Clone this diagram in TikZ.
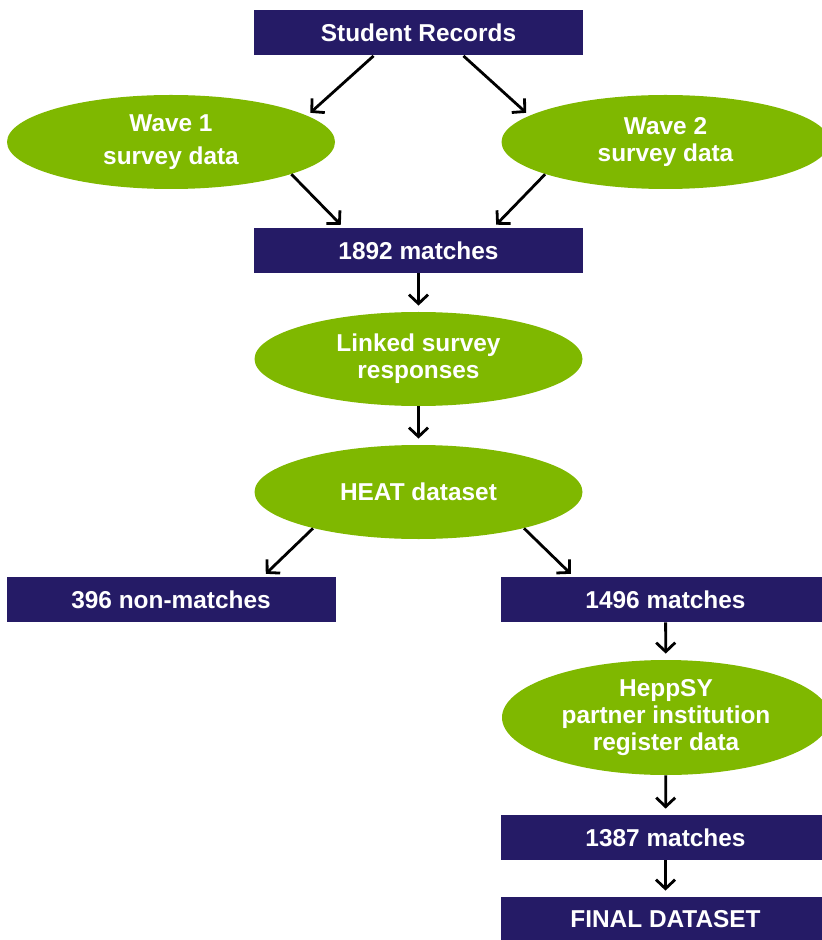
\documentclass[tikz,border=0pt]{standalone}
\usepackage{fontspec}
\setmainfont{Liberation Sans}
\usepackage{tikz}
\usetikzlibrary{shapes.geometric,arrows.meta}
\definecolor{navy}{RGB}{37,27,102}
\definecolor{leaf}{RGB}{127,184,0}

\begin{document}
\begin{tikzpicture}[x=0.5pt,y=-0.5pt,
  box/.style={fill=navy,text=white,minimum width=164.5pt,minimum height=22.5pt,inner sep=0pt,font=\bfseries\fontsize{12.2}{13.5}\selectfont},
  blob/.style={ellipse,fill=leaf,text=white,minimum width=164pt,minimum height=47pt,inner sep=0pt,align=center,font=\bfseries\fontsize{12.2}{13.5}\selectfont},
  arr/.style={-{Straight Barb[length=4.5pt,width=9.5pt]},line width=1.4pt,shorten >=2pt}]
\useasboundingbox (0,0) rectangle (822,940);
\node[box] (student) at (418.5,33) {Student Records};
\node[blob] (wave1) at (171,142) {Wave 1\\[3pt]survey data};
\node[blob] (wave2) at (665.5,142) {Wave 2\\survey data};
\node[box] (match1892) at (418.5,250.5) {1892 matches};
\node[blob] (linked) at (418.5,359) {Linked survey\\responses};
\node[blob] (heat) at (418.5,492) {HEAT dataset};
\node[box] (nonmatch) at (171,599.5) {396 non-matches};
\node[box] (match1496) at (665.5,599.5) {1496 matches};
\node[blob,minimum height=57.5pt] (heppsy) at (666,717.5) {HeppSY\\partner institution\\register data};
\node[box] (match1387) at (665.5,837.5) {1387 matches};
\node[box] (final) at (665.5,919.5) {FINAL DATASET};
\draw[arr] (student.207) -- (wave1.11);
\draw[arr] (student.-27) -- (wave2.169);
\draw[arr] (wave1.-15) -- (match1892.163);
\draw[arr] (wave2.195) -- (match1892.17);
\draw[arr,shorten >=3pt] (match1892) -- (linked);
\draw[arr,shorten >=3pt] (linked) -- (heat);
\draw[arr] (heat.199) -- (nonmatch.14);
\draw[arr] (heat.-19) -- (match1496.166);
\draw[arr,shorten >=3pt] (match1496) -- (heppsy);
\draw[arr,shorten >=3pt] (heppsy) -- (match1387);
\draw[arr,shorten >=3pt] (match1387) -- (final);
\end{tikzpicture}
\end{document}
